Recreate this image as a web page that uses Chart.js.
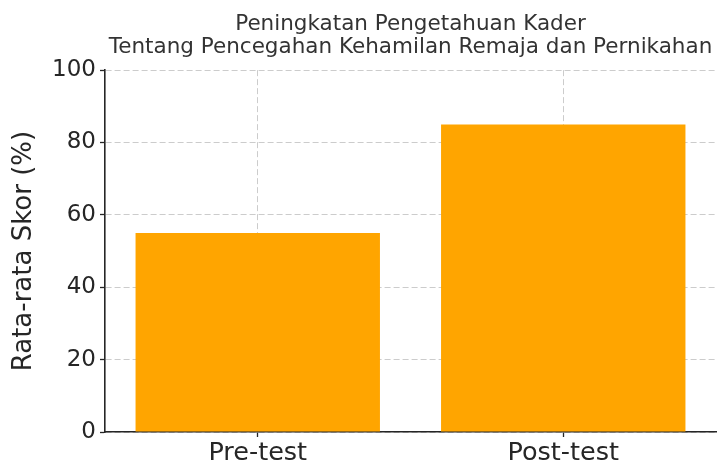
<!DOCTYPE html>
<html>
<head>
<meta charset="utf-8">
<script src="https://cdn.jsdelivr.net/npm/chart.js@4"></script>
<style>
  html, body { margin: 0; padding: 0; background: #fff; }
  #wrap { width: 718px; height: 464px; }
</style>
</head>
<body>
<div id="wrap"><canvas id="my-chart"></canvas></div>
<script>
let labels = ["Pre-test", "Post-test"];
let skor = [55, 85];
let yTicks = [0, 20, 40, 60, 80, 100];
let titleLines = ["Peningkatan Pengetahuan Kader", "Tentang Pencegahan Kehamilan Remaja dan Pernikahan"];

let ctx = document.getElementById('my-chart').getContext('2d');
let font = "'DejaVu Sans', sans-serif";
let gridColor = 'rgba(176,176,176,0.65)';
let spineColor = '#262626';

let chart = new Chart(ctx, {
    type: 'bar',
    data: {
        labels: labels,
        datasets: [{
            data: skor,
            backgroundColor: '#FFA500',
            categoryPercentage: 0.8,
            barPercentage: 1.0
        }]
    },
    options: {
        responsive: true,
        maintainAspectRatio: false,
        animation: false,
        layout: { padding: { left: 0, right: 2, top: 0, bottom: 0 } },
        plugins: {
            legend: { display: false },
            tooltip: { enabled: false },
            title: {
                display: true,
                fullSize: false,
                text: titleLines,
                color: '#333333',
                font: { family: font, size: 21.5, weight: 'normal', lineHeight: 1.05 },
                padding: { top: 13.5, bottom: 11.5 }
            }
        },
        scales: {
            x: {
                z: 1,
                offset: true,
                grid: {
                    offset: false,
                    color: gridColor,
                    tickLength: 5,
                    tickColor: spineColor,
                    tickWidth: 1.3,
                    tickBorderDash: []
                },
                border: { display: true, color: spineColor, width: 1.6, dash: [6, 3] },
                ticks: {
                    color: spineColor,
                    padding: 1,
                    font: { family: font, size: 25.5 }
                },
                afterFit: function (scale) { scale.height = 32; }
            },
            y: {
                z: 1,
                min: 0,
                max: 100,
                afterBuildTicks: function (scale) {
                    scale.ticks = yTicks.map(v => ({ value: v }));
                },
                grid: {
                    color: gridColor,
                    tickLength: 5,
                    tickColor: spineColor,
                    tickWidth: 1.3,
                    tickBorderDash: []
                },
                border: { display: true, color: spineColor, width: 1.6, dash: [6, 3] },
                ticks: {
                    color: spineColor,
                    padding: 4,
                    font: { family: font, size: 23 }
                },
                title: {
                    display: true,
                    text: 'Rata-rata Skor (%)',
                    color: spineColor,
                    font: { family: font, size: 26 },
                    padding: { top: 9, bottom: 4 }
                },
                afterFit: function (scale) { scale.width = 105; }
            }
        }
    }
});
</script>
</body>
</html>
